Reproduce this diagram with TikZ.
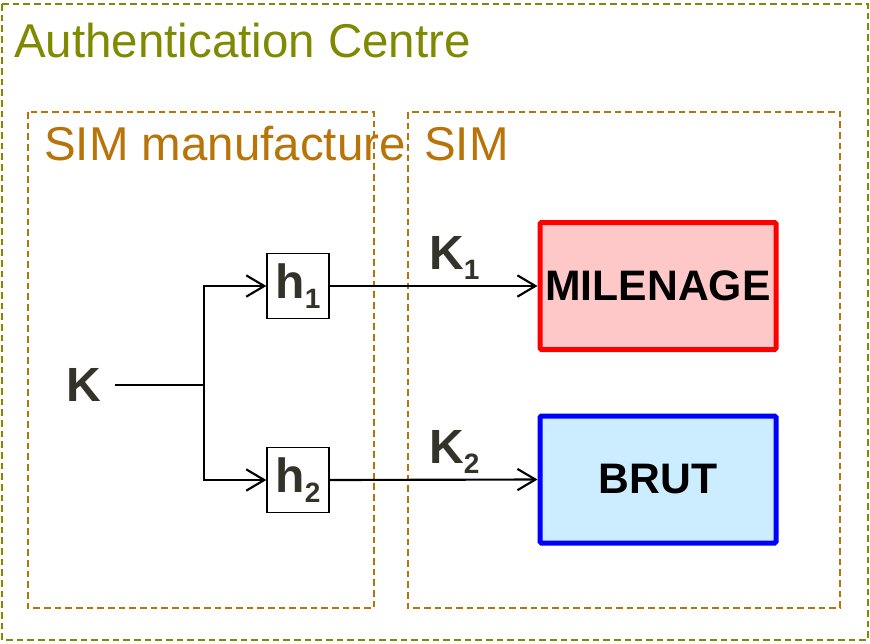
\documentclass[tikz,border=0pt]{standalone}
\usepackage{fontspec}
\setmainfont{Liberation Sans}
\usetikzlibrary{arrows.meta,positioning}
\definecolor{acgreen}{RGB}{128,138,0}
\definecolor{simbrown}{RGB}{184,116,8}
\definecolor{keygray}{RGB}{51,51,42}
\definecolor{milfill}{RGB}{255,200,200}
\definecolor{brutfill}{RGB}{204,236,255}
\newcommand\idx[1]{\raisebox{-7.5pt}{\fontsize{21pt}{21pt}\selectfont #1}}
\tikzset{
  frame/.style={line width=1.5pt, dash pattern=on 5pt off 3pt},
  title/.style={anchor=base west, inner sep=0pt, font=\fontsize{35.6pt}{40pt}\selectfont},
  keylbl/.style={inner sep=0pt, text=keygray, font=\fontsize{36pt}{40pt}\selectfont\bfseries},
  hashbox/.style={draw, line width=1pt, minimum width=46.5pt, minimum height=48.75pt,
    inner sep=0pt, text=keygray, font=\fontsize{36pt}{40pt}\selectfont\bfseries},
  algobox/.style={line width=3.75pt, rounded corners=1pt, minimum width=177pt,
    minimum height=95.25pt, inner sep=0pt, font=\fontsize{32pt}{36pt}\selectfont\bfseries},
  wire/.style={line width=1.6pt},
  arr/.style={wire, -{Straight Barb[length=13.5pt, width=16pt, line width=1.6pt]}}
}
\begin{document}
\begin{tikzpicture}[x=0.75pt, y=-0.75pt]
  \useasboundingbox (0,0) rectangle (870,643);
  % frames
  \draw[frame, acgreen] (2,4) rectangle (868,640);
  \draw[frame, simbrown, line width=1.2pt] (28,112) rectangle (374,608);
  \draw[frame, simbrown, line width=1.2pt] (408,112) rectangle (840,608);
  \node[title, text=acgreen] (actitle) at (14,57) {Authentication Centre};
  \node[title, text=simbrown] (mantitle) at (44,160) {SIM manufacture};
  \node[title, text=simbrown] (simtitle) at (424,160) {SIM};
  % key derivation
  \node[keylbl] (key) at (84,385) {K};
  \coordinate (split) at (204,385);
  \node[hashbox] (h1) at (298,286) {h\idx{1}};
  \node[hashbox] (h2) at (298,480) {h\idx{2}};
  \node[algobox, draw=red, fill=milfill] (mil) at (658,286) {MILENAGE};
  \node[algobox, draw=blue, fill=brutfill] (brut) at (658,479.5) {BRUT};
  \draw[wire, shorten <=10pt] (key.east) -- (split);
  \draw[arr] (split) |- (h1.west);
  \draw[arr] (split) |- (h2.west);
  \draw[arr] (h1.east) -- node[keylbl, above, pos=0.6, inner sep=4pt] (k1) {K\idx{1}} (mil.west);
  \draw[arr] (h2.east) -- node[keylbl, above, pos=0.6, inner sep=4pt] (k2) {K\idx{2}} (brut.west);
\end{tikzpicture}
\end{document}
